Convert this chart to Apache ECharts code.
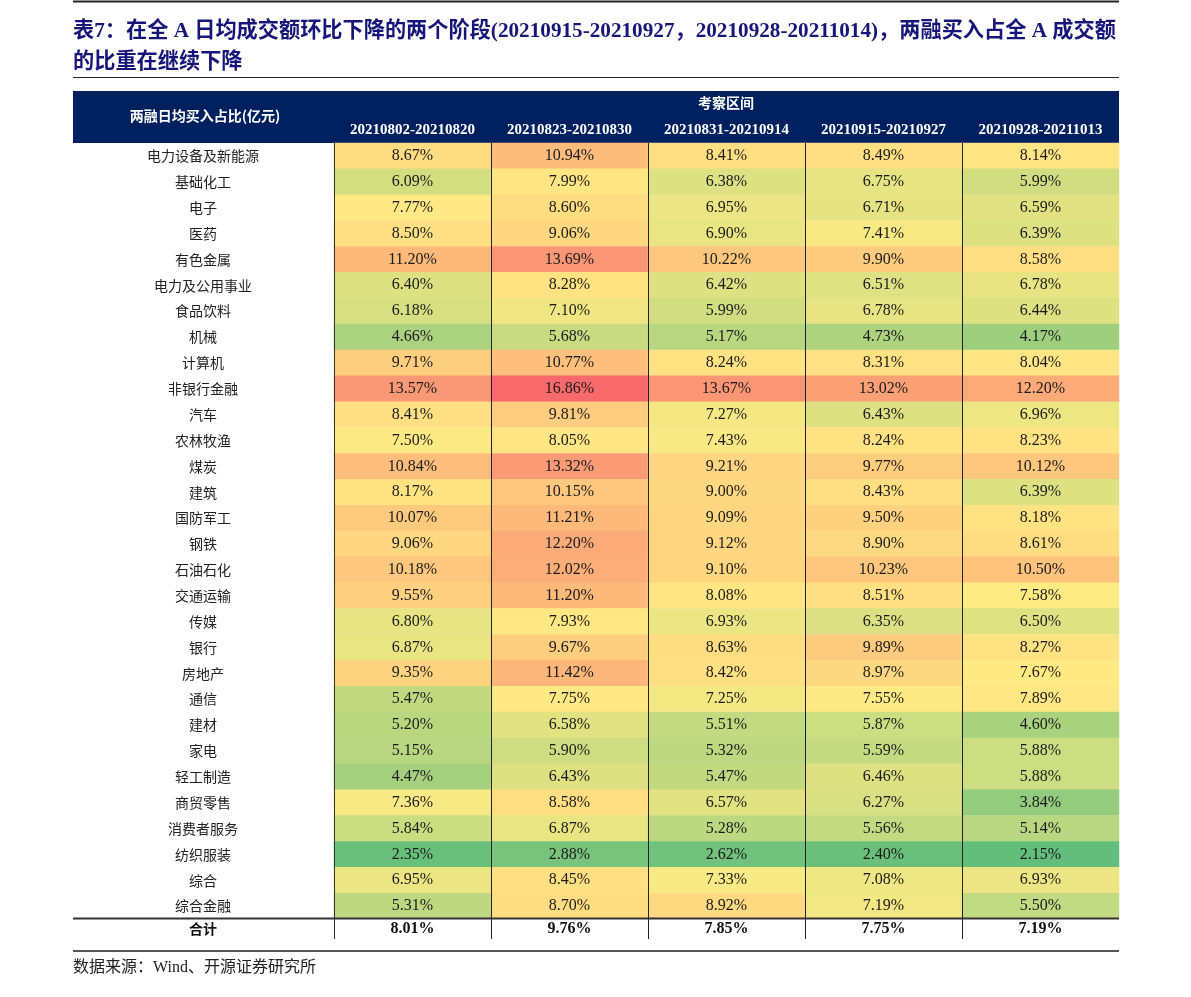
<!DOCTYPE html>
<html><head><meta charset="utf-8">
<script src="https://cdn.jsdelivr.net/npm/echarts@6/dist/echarts.min.js"></script>
<style>html,body{margin:0;padding:0;background:#fff}#c{width:1191px;height:997px}</style>
</head><body><div id="c"></div>
<script>
const periods = ['20210802-20210820','20210823-20210830','20210831-20210914','20210915-20210927','20210928-20211013'];
const industries = ['电力设备及新能源','基础化工','电子','医药','有色金属','电力及公用事业','食品饮料','机械','计算机','非银行金融','汽车','农林牧渔','煤炭','建筑','国防军工','钢铁','石油石化','交通运输','传媒','银行','房地产','通信','建材','家电','轻工制造','商贸零售','消费者服务','纺织服装','综合','综合金融'];
const p1 = [8.67,6.09,7.77,8.50,11.20,6.40,6.18,4.66,9.71,13.57,8.41,7.50,10.84,8.17,10.07,9.06,10.18,9.55,6.80,6.87,9.35,5.47,5.20,5.15,4.47,7.36,5.84,2.35,6.95,5.31];
const p2 = [10.94,7.99,8.60,9.06,13.69,8.28,7.10,5.68,10.77,16.86,9.81,8.05,13.32,10.15,11.21,12.20,12.02,11.20,7.93,9.67,11.42,7.75,6.58,5.90,6.43,8.58,6.87,2.88,8.45,8.70];
const p3 = [8.41,6.38,6.95,6.90,10.22,6.42,5.99,5.17,8.24,13.67,7.27,7.43,9.21,9.00,9.09,9.12,9.10,8.08,6.93,8.63,8.42,7.25,5.51,5.32,5.47,6.57,5.28,2.62,7.33,8.92];
const p4 = [8.49,6.75,6.71,7.41,9.90,6.51,6.78,4.73,8.31,13.02,6.43,8.24,9.77,8.43,9.50,8.90,10.23,8.51,6.35,9.89,8.97,7.55,5.87,5.59,6.46,6.27,5.56,2.40,7.08,7.19];
const p5 = [8.14,5.99,6.59,6.39,8.58,6.78,6.44,4.17,8.04,12.20,6.96,8.23,10.12,6.39,8.18,8.61,10.50,7.58,6.50,8.27,7.67,7.89,4.60,5.88,5.88,3.84,5.14,2.15,6.93,5.50];
const totalLabel = '合计';
const totals = [8.01,9.76,7.85,7.75,7.19];

const cols = [p1,p2,p3,p4,p5];
const all = [].concat(...cols).slice().sort((a,b)=>a-b);
const vmin = all[0], vmax = all[all.length-1];
const rk = 0.5*(all.length-1), lo = Math.floor(rk);
const vmid = all[lo] + (all[lo+1]-all[lo])*(rk-lo);
const G=[99,190,123], Y=[255,235,132], R=[248,105,107];
function lerp(a,b,t){return a.map((x,i)=>Math.round(x+(b[i]-x)*t));}
function colorOf(v){
  let c = v<=vmid ? lerp(G,Y,(v-vmin)/(vmid-vmin)) : lerp(Y,R,(v-vmid)/(vmax-vmid));
  return 'rgb('+c.join(',')+')';
}
const cells = [];
cols.forEach((arr,ci)=>arr.forEach((v,ri)=>cells.push({value:[ci,ri,v],itemStyle:{color:colorOf(v)}})));
const totCells = totals.map((v,ci)=>({value:[ci,0,v],itemStyle:{color:'#ffffff'}}));

const serif = "'Liberation Serif','Noto Sans CJK SC'";
const cjk = "'Noto Sans CJK SC'";
const L=73, Rr=1119;
const splitColors = ['#333','#222','#222','#222','#222','rgba(0,0,0,0)'];
const chart = echarts.init(document.getElementById('c'));
chart.setOption({
  animation:false,
  backgroundColor:'#fff',
  grid:[
    {left:334,right:1191-1119,top:143,height:776},
    {left:334,right:1191-1119,top:919,height:20}
  ],
  xAxis:[
    {type:'category',gridIndex:0,data:periods,position:'top',z:10,
     axisLine:{show:false},axisTick:{show:false},
     axisLabel:{color:'#fff',fontFamily:serif,fontWeight:'bold',fontSize:15,margin:5,interval:0},
     splitLine:{show:true,interval:0,lineStyle:{color:splitColors,width:1}}},
    {type:'category',gridIndex:1,data:periods,z:10,
     axisLine:{show:false},axisTick:{show:false},axisLabel:{show:false},
     splitLine:{show:true,interval:0,lineStyle:{color:splitColors,width:1}}}
  ],
  yAxis:[
    {type:'category',gridIndex:0,data:industries,inverse:true,
     axisLine:{show:false},axisTick:{show:false},splitLine:{show:false},
     axisLabel:{color:'#222',fontFamily:cjk,fontSize:14,align:'center',margin:131,interval:0}},
    {type:'category',gridIndex:1,data:[totalLabel],
     axisLine:{show:false},axisTick:{show:false},splitLine:{show:false},
     axisLabel:{color:'#111',fontFamily:cjk,fontWeight:'bold',fontSize:14,align:'center',margin:131}}
  ],
  series:[
    {type:'heatmap',xAxisIndex:0,yAxisIndex:0,data:cells,
     label:{show:true,color:'#1a1a1a',fontFamily:serif,fontSize:16,formatter:p=>p.value[2].toFixed(2)+'%'}},
    {type:'heatmap',xAxisIndex:1,yAxisIndex:1,data:totCells,
     label:{show:true,color:'#111',fontFamily:serif,fontWeight:'bold',fontSize:16,formatter:p=>p.value[2].toFixed(2)+'%'}}
  ],
  graphic:[
    {type:'line',shape:{x1:L,y1:1.5,x2:Rr,y2:1.5},style:{stroke:'#222',lineWidth:2},z:20},
    {type:'text',left:L,top:21,style:{text:'表7：在全 A 日均成交额环比下降的两个阶段(20210915-20210927，20210928-20211014)，两融买入占全 A 成交额',fill:'#16167a',font:"bold 21.2px "+serif},z:20},
    {type:'text',left:L,top:52,style:{text:'的比重在继续下降',fill:'#16167a',font:"bold 21.2px "+serif},z:20},
    {type:'line',shape:{x1:L,y1:77.5,x2:Rr,y2:77.5},style:{stroke:'#222',lineWidth:1},z:20},
    {type:'rect',shape:{x:L,y:91,width:Rr-L,height:52},style:{fill:'#00205f'},z:-1},
    {type:'text',x:205,y:116,style:{text:'两融日均买入占比(亿元)',fill:'#fff',font:"bold 14px "+cjk,align:'center',verticalAlign:'middle'},z:20},
    {type:'text',x:726,y:103,style:{text:'考察区间',fill:'#fff',font:"bold 14px "+cjk,align:'center',verticalAlign:'middle'},z:20},
    {type:'line',shape:{x1:L,y1:918.5,x2:Rr,y2:918.5},style:{stroke:'#333',lineWidth:2},z:20},
    {type:'line',shape:{x1:L,y1:951,x2:Rr,y2:951},style:{stroke:'#555',lineWidth:2},z:20},
    {type:'text',left:L,top:960,style:{text:'数据来源：Wind、开源证券研究所',fill:'#222',font:"16px "+serif},z:20}
  ]
});
</script></body></html>
